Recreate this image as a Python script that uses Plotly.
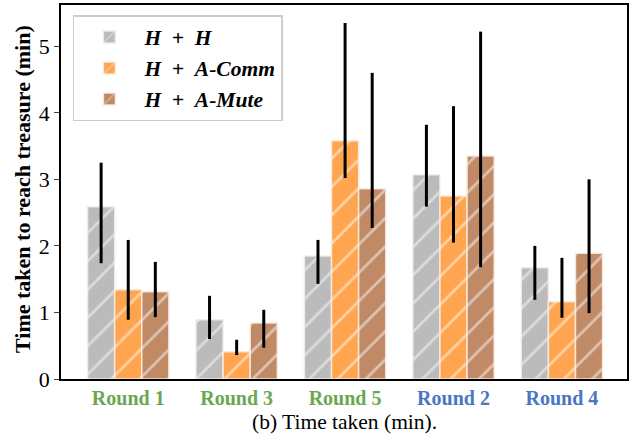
import plotly.graph_objects as go

rounds = ["Round 1", "Round 3", "Round 5", "Round 2", "Round 4"]
round_colors = ["#6aa84f", "#6aa84f", "#6aa84f", "#4a76c4", "#4a76c4"]
series_names = ["H\u2002+\u2002H", "H\u2002+\u2002A-Comm", "H\u2002+\u2002A-Mute"]
series_colors = ["#bbbbbb", "#ffa54f", "#c08a66"]

means = [
    [2.59, 0.89, 1.85, 3.07, 1.67],
    [1.34, 0.41, 3.58, 2.75, 1.16],
    [1.31, 0.84, 2.86, 3.35, 1.89],
]
err_hi = [
    [3.25, 1.25, 2.09, 3.82, 2.00],
    [2.09, 0.59, 5.35, 4.10, 1.82],
    [1.76, 1.04, 4.60, 5.22, 3.00],
]
err_lo = [
    [1.74, 0.60, 1.43, 2.59, 1.19],
    [0.89, 0.36, 3.02, 2.05, 0.92],
    [0.93, 0.47, 2.27, 1.68, 0.99],
]

font = "Liberation Serif"
fig = go.Figure()
for i, name in enumerate(series_names):
    fig.add_trace(go.Bar(
        x=list(range(len(rounds))),
        y=means[i],
        name="<b><i>" + name + "</i></b>",
        marker=dict(
            color=series_colors[i],
            line=dict(color="rgba(250,235,225,0.9)", width=1.5),
            pattern=dict(shape="/", fgcolor="rgba(255,255,255,0.95)", bgcolor=series_colors[i],
                         size=20, solidity=0.14),
        ),
        error_y=dict(
            type="data", symmetric=False,
            array=[h - m for h, m in zip(err_hi[i], means[i])],
            arrayminus=[m - l for m, l in zip(means[i], err_lo[i])],
            color="black", thickness=3, width=0,
        ),
    ))

fig.update_layout(
    width=635, height=443,
    margin=dict(l=61, r=8, t=5, b=64, autoexpand=False),
    barmode="group", bargap=0.25, bargroupgap=0.0,
    plot_bgcolor="white", paper_bgcolor="white",
    font=dict(family=font, size=20, color="black"),
    showlegend=True,
    legend=dict(
        x=0.021, y=0.973, xanchor="left", yanchor="top",
        bgcolor="rgba(255,255,255,0.9)", bordercolor="#cccccc", borderwidth=1.5,
        font=dict(family=font, size=21.5, color="black"),
        itemwidth=60, tracegroupgap=2,
    ),
    xaxis=dict(
        range=[-0.62, 4.6],
        tickvals=list(range(len(rounds))),
        ticktext=["<b><span style='color:%s'>%s</span></b>" % (c, r) for r, c in zip(rounds, round_colors)],
        tickfont=dict(family=font, size=20),
        ticks="", showline=True, linecolor="black", linewidth=1.5, mirror=True,
        showgrid=False, zeroline=False, automargin=False,
    ),
    yaxis=dict(
        range=[0, 5.62],
        tickvals=[0, 1, 2, 3, 4, 5],
        tickfont=dict(family=font, size=22),
        ticks="outside", ticklen=5, tickwidth=1.2,
        showline=True, linecolor="black", linewidth=1.5, mirror=True,
        showgrid=False, zeroline=False, automargin=False,
    ),
    annotations=[
        dict(
            text="<b>Time taken to reach treasure (min)</b>", xref="paper", yref="paper",
            x=-0.069, y=0.508, xanchor="center", yanchor="middle", textangle=-90,
            showarrow=False, font=dict(family=font, size=22, color="black"),
        ),
        dict(
            text="(b) Time taken (min).", xref="paper", yref="paper",
            x=0.5, y=-0.078, xanchor="center", yanchor="top", showarrow=False,
            font=dict(family=font, size=21.5, color="black"),
        ),
    ],
)

fig.write_html("out.html", config={"displayModeBar": False},
               post_script="document.body.style.margin='0';document.body.style.overflow='hidden';")
